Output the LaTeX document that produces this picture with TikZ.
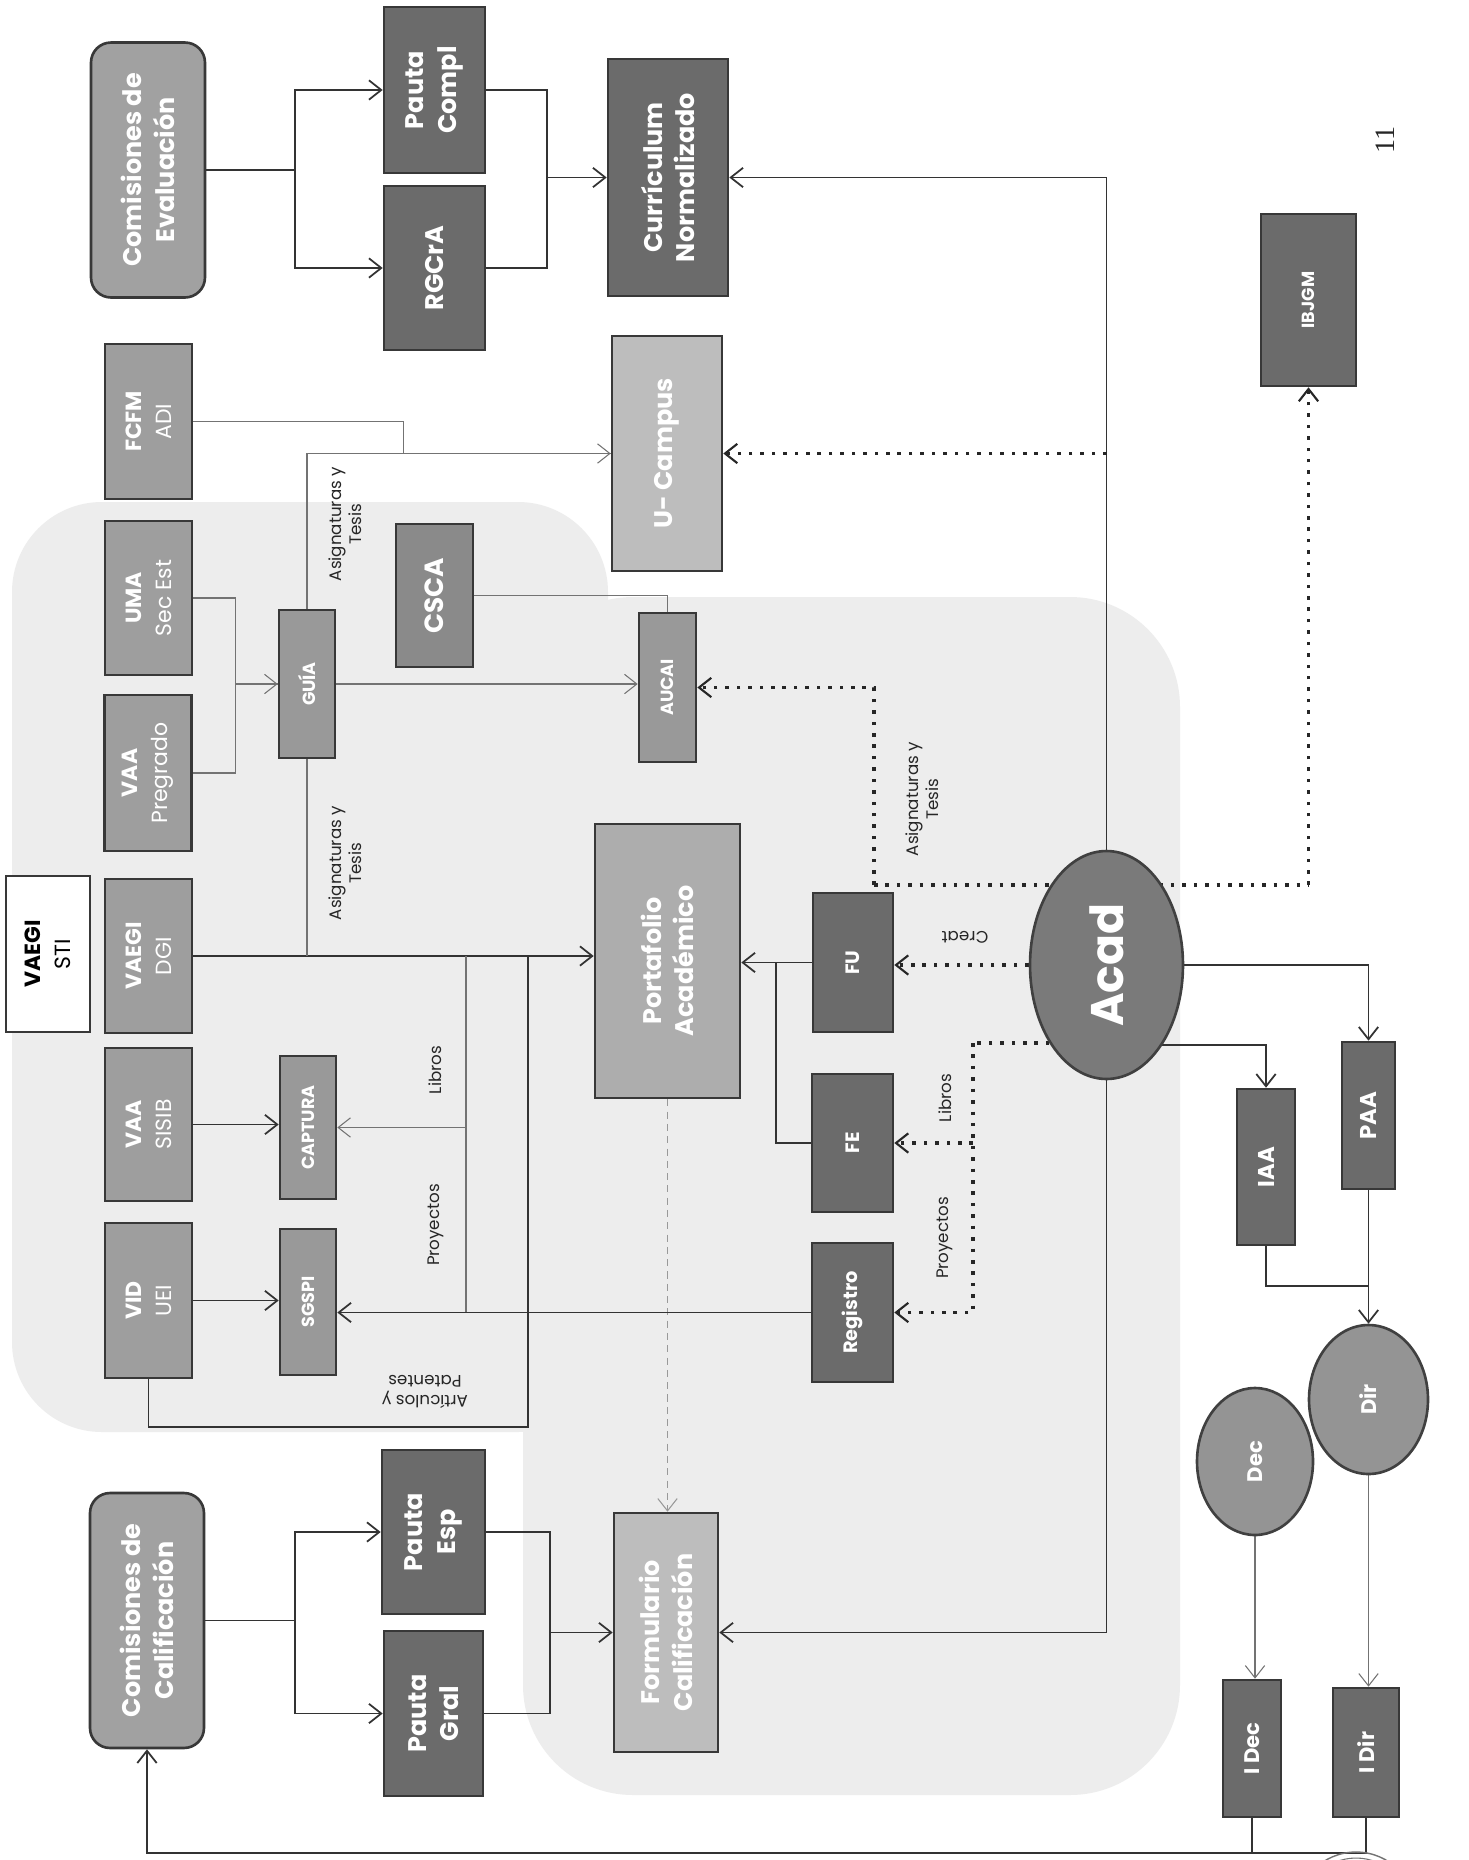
\documentclass[tikz,border=0pt]{standalone}
\usepackage{fontspec}
\setmainfont{Poppins}
\newfontfamily\pagefont{Liberation Serif}
\usetikzlibrary{arrows.meta,shapes.geometric,backgrounds}

\tikzset{
  block/.style={rectangle, draw=black!78, line width=1.5pt, rotate=90, inner sep=1pt, align=center, text=white},
  darkbox/.style={block, fill=black!58, font=\bfseries\fontsize{11}{13}\selectfont},
  pautabox/.style={darkbox, font=\bfseries\fontsize{14.5}{18.5}\selectfont},
  srcbox/.style={block, fill=black!38, font=\fontsize{12.5}{17}\selectfont},
  tinybox/.style={block, fill=black!40, font=\bfseries\fontsize{10}{12}\selectfont},
  bigbox/.style={block, fill=black!32, font=\bfseries\fontsize{14.5}{18.5}\selectfont},
  paperbox/.style={block, fill=black!26, font=\bfseries\fontsize{14.5}{18.5}\selectfont},
  commbox/.style={block, rounded corners=0.4cm, fill=black!37, font=\bfseries\fontsize{14.5}{18.5}\selectfont},
  oval/.style={ellipse, draw=black!75, line width=1.5pt, rotate=90, inner sep=0pt, fill=black!42, text=white, font=\bfseries\fontsize{12}{14}\selectfont},
  lbl/.style={align=center, inner sep=0pt, text=black!85, font=\fontsize{9.5}{11.5}\selectfont},
  wire/.style={line width=1pt, draw=black!80},
  wirearr/.style={wire, -{Straight Barb[length=7pt,width=11pt]}},
  thinwire/.style={line width=0.6pt, draw=black!55},
  thinarr/.style={thinwire, -{Straight Barb[length=7pt,width=11pt]}},
  dotwire/.style={line width=2pt, draw=black!85, dash pattern=on 2pt off 4.5pt},
  dotarr/.style={dotwire, -{Straight Barb[length=7pt,width=11pt,line width=1.2pt]}},
  dasharr/.style={line width=0.6pt, draw=black!40, dash pattern=on 4pt off 3pt, -{Straight Barb[length=7pt,width=11pt]}},
}

\begin{document}
\begin{tikzpicture}[x=0.02cm, y=-0.02cm]

    \useasboundingbox (0,0) rectangle (1469,1860);

    % Shaded areas behind the boxes
    \begin{scope}[on background layer]
      \fill[white] (0,0) rectangle (1469,1860);
      \fill[gray!14, rounded corners=1.8cm] (12,502) rectangle (608,1432);
      \fill[gray!14, rounded corners=2.2cm] (523,597) rectangle (1180,1795);
    \end{scope}

    % Evaluation branch (top)
    \node[commbox, minimum width=5.1cm, minimum height=2.28cm] (comEval) at (148,170) {Comisiones de\\Evaluación};
    \node[pautabox, minimum width=3.32cm, minimum height=2.02cm] (pautaCompl) at (434.5,90) {Pauta\\Compl};
    \node[pautabox, minimum width=3.28cm, minimum height=2.02cm] (rgcra) at (434.5,268) {RGCrA};
    \node[pautabox, minimum width=4.74cm, minimum height=2.4cm] (curric) at (668,177.5) {Currículum\\Normalizado};

    % Sources in the shaded area
    \node[srcbox, minimum width=3.1cm, minimum height=1.74cm] (fcfm) at (148.5,421.5) {{\bfseries FCFM}\\ADI};
    \node[paperbox, minimum width=4.7cm, minimum height=2.2cm] (uCampus) at (667,453.5) {U- Campus};
    \node[srcbox, minimum width=3.08cm, minimum height=1.74cm] (uma) at (148.5,598) {{\bfseries UMA}\\Sec Est};
    \node[tinybox, fill=black!46, minimum width=2.86cm, minimum height=1.54cm, font=\bfseries\fontsize{15}{17}\selectfont] (csca) at (434.5,595.5) {CSCA};
    \node[tinybox, minimum width=2.96cm, minimum height=1.12cm] (guia) at (307,684) {GUÍA};
    \node[tinybox, minimum width=2.98cm, minimum height=1.14cm] (aucai) at (667.5,687.5) {AUCAI};
    \node[srcbox, minimum width=3.12cm, minimum height=1.74cm] (vaaPre) at (148,773) {{\bfseries VAA}\\Pregrado};
    \node[srcbox, fill=white, text=black, minimum width=3.12cm, minimum height=1.68cm] (vaegiSti) at (48,954) {{\bfseries VAEGI}\\STI};
    \node[srcbox, minimum width=3.08cm, minimum height=1.74cm] (vaegiDgi) at (148.5,956) {{\bfseries VAEGI}\\DGI};
    \node[bigbox, minimum width=5.48cm, minimum height=2.9cm] (portafolio) at (667.5,961) {Portafolio\\Académico};
    \node[srcbox, minimum width=3.06cm, minimum height=1.74cm] (vaaSisib) at (148.5,1124.5) {{\bfseries VAA}\\SISIB};
    \node[tinybox, minimum width=2.86cm, minimum height=1.12cm] (captura) at (308,1127.5) {CAPTURA};
    \node[srcbox, minimum width=3.1cm, minimum height=1.74cm] (vidUei) at (148.5,1300.5) {{\bfseries VID}\\UEI};
    \node[tinybox, minimum width=2.92cm, minimum height=1.12cm] (sgspi) at (308,1302) {SGSPI};

    % Forms filled by Acad
    \node[darkbox, minimum width=2.78cm, minimum height=1.6cm] (fu) at (853,962.5) {FU};
    \node[darkbox, minimum width=2.76cm, minimum height=1.62cm] (fe) at (852.5,1143) {FE};
    \node[darkbox, minimum width=2.78cm, minimum height=1.62cm] (registro) at (852.5,1312.5) {Registro};

    % Acad and the reports
    \node[oval, fill=black!52, minimum width=4.56cm, minimum height=3.06cm, font=\bfseries\fontsize{26}{30}\selectfont] (acad) at (1106.5,965) {Acad};
    \node[darkbox, minimum width=3.44cm, minimum height=1.9cm, font=\bfseries\fontsize{10}{12}\selectfont] (ibjgm) at (1308.5,300) {IBJGM};
    \node[darkbox, minimum width=3.12cm, minimum height=1.16cm, font=\bfseries\fontsize{13}{15}\selectfont] (iaa) at (1266,1167) {IAA};
    \node[darkbox, minimum width=2.94cm, minimum height=1.06cm, font=\bfseries\fontsize{13}{15}\selectfont] (paa) at (1368.5,1115.5) {PAA};
    \node[oval, minimum width=2.98cm, minimum height=2.38cm] (dir) at (1368.5,1399.5) {Dir};
    \node[oval, minimum width=2.94cm, minimum height=2.32cm] (dec) at (1255,1461.5) {Dec};
    \node[darkbox, minimum width=2.74cm, minimum height=1.16cm, font=\bfseries\fontsize{12}{14}\selectfont] (iDec) at (1252,1748.5) {I Dec};
    \node[darkbox, minimum width=2.58cm, minimum height=1.32cm, font=\bfseries\fontsize{12}{14}\selectfont] (iDir) at (1366,1752.5) {I Dir};

    % Qualification branch (bottom)
    \node[commbox, minimum width=5.1cm, minimum height=2.28cm] (comCal) at (147,1620.5) {Comisiones de\\Calificación};
    \node[pautabox, minimum width=3.28cm, minimum height=2.06cm] (pautaEsp) at (433.5,1532) {Pauta\\Esp};
    \node[pautabox, minimum width=3.3cm, minimum height=1.98cm] (pautaGral) at (433.5,1713.5) {Pauta\\Gral};
    \node[paperbox, minimum width=4.78cm, minimum height=2.08cm] (formulario) at (666,1632.5) {Formulario\\Calificación};

    % Junction points
    \coordinate (libJoin) at (466,956);
    \coordinate (artJoin) at (528,956);
    \coordinate (asigSplit) at (874,885);
    \coordinate (ibSplit) at (1308.5,885);
    \coordinate (libSplit) at (973,1043);

    % Connector labels
    \node[lbl, rotate=90] (lblAsigA) at (345,524) {Asignaturas y\\Tesis};
    \node[lbl, rotate=90] (lblAsigB) at (345,863) {Asignaturas y\\Tesis};
    \node[lbl, rotate=90] (lblAsigC) at (922,799) {Asignaturas y\\Tesis};
    \node[lbl, rotate=90] (lblLibA) at (435,1070) {Libros};
    \node[lbl, rotate=90] (lblProyA) at (436,1225) {Proyectos};
    \node[lbl, rotate=90] (lblLibB) at (945,1098) {Libros};
    \node[lbl, rotate=90] (lblProyB) at (945,1238) {Proyectos};
    \node[lbl, rotate=180] (lblArt) at (425,1392) {Artículos y\\Patentes};
    \node[lbl, rotate=180] (lblCreat) at (965,937) {Creat};
    \node[lbl, rotate=90, font=\pagefont\fontsize{16}{16}\selectfont] (pageNum) at (1385,140) {11};

    % Stamp at the bottom edge
    \draw[black!55, line width=0.8pt] (1356,1912) circle (1.2cm);
    \draw[black!55, line width=0.6pt] (1356,1912) circle (1.08cm);

    % Connectors (behind the boxes)
    \begin{scope}[on background layer]
      \draw[wirearr] (comEval.south) -- ++(89,0) |- (pautaCompl.north);
      \draw[wirearr] (comEval.south) -- ++(89,0) |- (rgcra.north);
      \draw[wirearr] (pautaCompl.south) -- ++(61,0) |- (curric.north);
      \draw[wire] (rgcra.south) -- ++(61,0) -- ++(0,-91);

      \draw[wirearr] (acad.east) |- (curric.south);
      \draw[dotarr] (acad.east |- uCampus.south) -- (uCampus.south);

      \draw[thinwire] (fcfm.south) -- ++(210,0) |- (uCampus.north);
      \draw[thinarr] (guia.east) |- (uCampus.north);
      \draw[thinarr] (uma.south) -- ++(42,0) |- (guia.north);
      \draw[thinwire] (vaaPre.south) -- ++(43,0) |- (guia.north);
      \draw[thinarr] (guia.south) -- (guia.south -| aucai.north);
      \draw[thinwire] (csca.south) -| (aucai.east);

      \draw[dotwire] (asigSplit) -- (ibSplit);
      \draw[dotarr] (asigSplit) |- (aucai.south);
      \draw[dotarr] (ibSplit) -- (ibjgm.west);

      \draw[dotarr] (acad.north) -- (acad.north -| fu.south);
      \draw[dotwire] (acad.center |- libSplit) -- (libSplit);
      \draw[dotarr] (libSplit) |- (registro.south);
      \draw[dotarr] (libSplit |- fe.south) -- (fe.south);

      \draw[wirearr] (fu.north) -- (fu.north -| portafolio.south);
      \draw[wire] (fe.north) -- ++(-35,0) |- (fu.north);

      \draw[wirearr] (acad.center) ++(0,80) -| (iaa.east);
      \draw[wirearr] (acad.south) -| (paa.east);
      \draw[wire] (iaa.west) -- ++(0,40) -| (paa.west);
      \draw[wirearr] (paa.west) -- (dir.east);
      \draw[thinarr] (dec.west) -- (dec.west |- iDec.east);
      \draw[thinarr] (dir.west) -- (dir.west |- iDir.east);
      \draw[wirearr] (iDir.west) -- ++(0,35) -| (comCal.west);
      \draw[wire] (iDec.west) -- ++(0,35);

      \draw[wirearr] (acad.west) |- (formulario.south);
      \draw[dasharr] (portafolio.west) -- (portafolio.west |- formulario.east);

      \draw[wirearr] (comCal.south) -- ++(90,0) |- (pautaEsp.north);
      \draw[wirearr] (comCal.south) -- ++(90,0) |- (pautaGral.north);
      \draw[wirearr] (pautaEsp.south) -- ++(64,0) |- (formulario.north);
      \draw[wire] (pautaGral.south) -- ++(66,0) -- ++(0,-81);

      \draw[wirearr] (vaegiDgi.south) -- (vaegiDgi.south -| portafolio.north);
      \draw[thinwire] (guia.west) -- (guia.west |- vaegiDgi.south);
      \draw[thinwire] (libJoin) -- (libJoin |- registro.north);
      \draw[thinarr] (libJoin |- captura.south) -- (captura.south);
      \draw[wire] (vidUei.west) -- ++(0,48) -| (artJoin);
      \draw[wirearr] (vaaSisib.south) -- (vaaSisib.south -| captura.north);
      \draw[wirearr] (vidUei.south) -- (vidUei.south -| sgspi.north);
      \draw[wirearr] (registro.north) -- (registro.north -| sgspi.south);
    \end{scope}

\end{tikzpicture}
\end{document}
